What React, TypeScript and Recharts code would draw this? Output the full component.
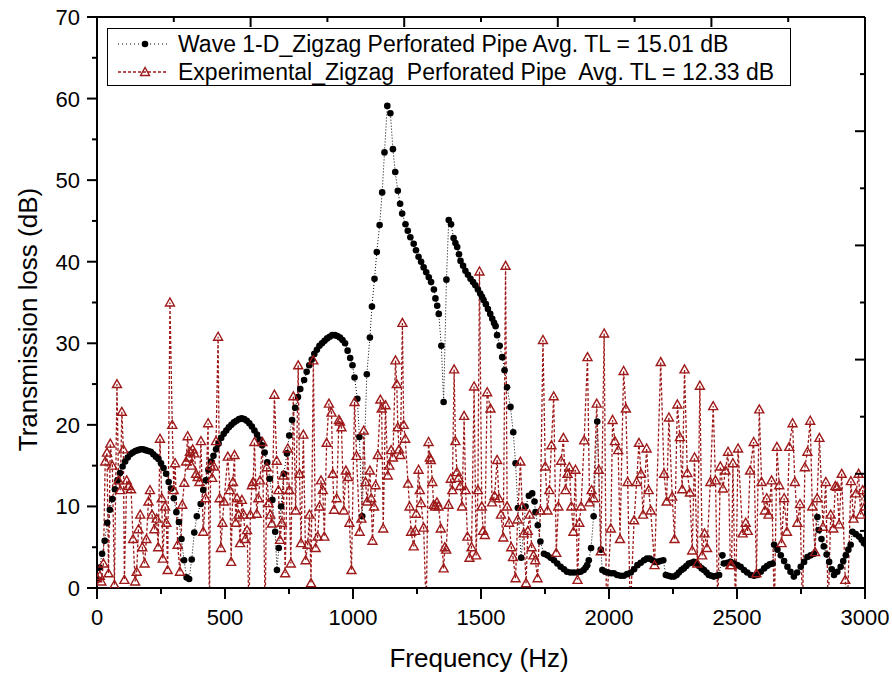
import React from 'react';
import { LineChart, Line, XAxis, YAxis, Legend, Label } from 'recharts';

const FONT = '"Liberation Sans", Arial, Helvetica, sans-serif';
const RED = '#9E1A1A';

// Wave 1-D simulation: [frequency Hz, TL dB]
const simPoints: number[][] = [
  [0,1.0],[10,2.5],[20,4.2],[30,5.8],[40,8.0],[50,9.6],[60,10.9],[70,12.1],[80,13.2],[90,14.1],
  [100,14.9],[110,15.5],[120,16.0],[130,16.4],[140,16.6],[150,16.8],[160,16.9],[170,17.0],[180,17.0],[190,16.9],
  [200,16.8],[210,16.7],[220,16.4],[230,16.1],[240,15.8],[250,15.3],[260,14.7],[270,14.0],[280,13.0],[290,12.2],
  [300,11.0],[310,9.3],[320,8.1],[330,6.0],[340,3.4],[350,1.3],[360,1.1],[370,3.5],[380,6.8],[390,8.8],
  [405,10.3],[415,12.0],[425,13.2],[435,14.5],[445,15.5],[455,16.2],[465,17.0],[475,17.7],[485,18.4],[495,18.9],
  [505,19.3],[515,19.7],[525,20.0],[535,20.3],[545,20.5],[555,20.7],[565,20.8],[575,20.7],[585,20.5],[595,20.2],
  [605,19.8],[615,19.3],[625,18.8],[635,18.2],[645,17.5],[655,16.6],[665,15.4],[675,13.4],[685,10.8],[696,6.9],
  [703,2.2],[710,4.9],[719,10.0],[730,14.0],[742,16.5],[751,18.7],[762,20.6],[774,22.1],[785,23.4],[794,24.4],
  [809,25.5],[819,26.5],[829,27.3],[839,28.0],[849,28.7],[859,29.2],[869,29.7],[879,30.0],[889,30.3],[899,30.6],
  [909,30.8],[919,31.0],[929,31.0],[939,30.9],[949,30.7],[959,30.4],[969,30.0],[979,29.1],[989,28.2],[998,27.3],
  [1006,25.8],[1017,23.2],[1025,18.5],[1036,8.8],[1054,26.2],[1066,30.7],[1074,34.5],[1084,37.9],[1093,41.2],[1104,44.5],
  [1114,48.5],[1123,53.4],[1134,59.1],[1146,58.2],[1156,53.8],[1165,51.0],[1175,48.7],[1184,47.1],[1192,45.9],
  [1205,44.6],[1214,43.8],[1224,43.0],[1237,42.2],[1246,41.4],[1256,40.6],[1266,40.0],[1276,39.3],[1286,38.7],[1296,38.1],
  [1305,37.5],[1316,36.6],[1322,35.5],[1329,34.6],[1335,33.6],[1345,29.7],[1354,22.8],[1365,37.8],[1374,45.1],[1383,44.6],
  [1393,42.9],[1400,42.3],[1407,41.8],[1414,40.9],[1420,40.1],[1430,39.5],[1439,38.9],[1449,38.4],[1459,37.9],[1469,37.5],
  [1478,37.1],[1488,36.6],[1497,36.1],[1504,35.7],[1510,35.3],[1519,34.8],[1527,34.2],[1536,33.6],[1544,33.0],[1551,32.5],
  [1557,32.1],[1563,31.0],[1573,29.7],[1583,28.3],[1592,26.7],[1602,24.6],[1615,22.2],[1626,19.1],[1635,15.3],[1644,9.8],
  [1657,3.7],[1674,10.0],[1687,11.3],[1700,11.6],[1709,10.6],[1713,9.3],[1722,7.7],[1732,5.7],[1746,4.2],[1759,4.0],
  [1772,3.7],[1785,3.4],[1798,3.0],[1811,2.6],[1824,2.3],[1836,2.0],[1849,1.9],[1862,1.9],[1876,1.9],[1889,2.0],
  [1901,2.2],[1909,2.5],[1915,2.8],[1921,3.4],[1930,4.9],[1940,8.8],[1954,20.4],[1968,4.7],[1974,2.2],[1985,2.0],
  [1996,1.9],[2008,1.8],[2019,1.8],[2032,1.6],[2045,1.5],[2058,1.5],[2071,1.7],[2085,1.9],[2098,2.3],[2111,2.8],
  [2124,3.1],[2137,3.4],[2148,3.6],[2159,3.6],[2170,3.4],[2180,3.2],[2189,3.2],[2200,3.3],[2212,3.4],[2222,1.6],
  [2232,1.5],[2243,1.4],[2254,1.4],[2264,1.6],[2273,1.9],[2283,2.2],[2292,2.4],[2302,2.7],[2312,3.0],[2322,3.1],
  [2332,3.2],[2342,3.0],[2352,2.7],[2362,2.4],[2371,2.2],[2381,1.9],[2390,1.6],[2400,1.5],[2409,1.4],[2420,1.5],
  [2430,1.6],[2443,4.0],[2449,3.0],[2462,3.1],[2475,3.2],[2488,3.0],[2501,2.8],[2514,2.6],[2527,2.2],[2540,1.9],
  [2554,1.6],[2567,1.5],[2580,1.6],[2593,2.0],[2606,2.4],[2617,2.7],[2628,2.9],[2639,3.0],[2645,5.3],[2658,4.7],
  [2671,4.0],[2684,3.3],[2697,2.6],[2709,2.0],[2722,1.4],[2735,1.9],[2749,2.6],[2762,3.2],[2775,3.8],[2788,4.0],
  [2801,4.2],[2814,8.7],[2820,7.1],[2830,6.0],[2839,5.1],[2850,4.1],[2860,3.2],[2870,2.3],[2879,1.6],[2892,2.0],
  [2905,2.6],[2915,3.3],[2925,4.0],[2935,4.7],[2944,5.3],[2951,6.9],[2964,6.6],[2977,6.3],[2987,5.9],[2996,5.5],
  [3006,5.2],
];

// Experimental: [frequency Hz, TL dB]
const expPoints: number[][] = [
  [0,1.2],[11,1.5],[17,0.8],[25,3],[32,15.5],[39,16.6],[45,1.8],[52,17.7],[60,15],[68,0.4],
  [78,25.0],[84,13.2],[91,12],[97,21.6],[103,17],[107,1.0],[116,13.2],[123,12.5],[133,12.1],[141,6],
  [149,0.8],[155,2],[162,7.2],[169,9],[177,5],[186,3],[193,6],[201,10.6],[207,12.0],[215,9],
  [224,7.2],[233,8.5],[239,5],[246,18.3],[253,11],[257,3.6],[266,10],[271,8],[276,2.2],[285,35.0],
  [294,20.0],[300,12],[305,15.3],[315,5.3],[324,2.0],[333,10.2],[341,12.9],[348,15.5],[354,18.6],[359,16],
  [363,16.7],[369,15],[374,17],[380,16.5],[387,14],[393,13.6],[400,13],[406,18.0],[415,6.9],[424,11],
  [434,20.2],[439,-3],[444,15],[450,13.5],[457,14.9],[465,18],[473,30.8],[479,11],[484,4.9],[490,8],
  [496,10.6],[511,16.1],[519,12],[524,3.2],[531,13],[537,16.3],[542,8],[547,11.0],[553,9],[559,5.5],
  [566,10.8],[573,9],[579,6],[586,7.1],[594,-3],[599,9],[605,12.6],[610,13],[615,17.9],[624,9.1],
  [630,11],[637,13.2],[646,17.9],[657,-3],[663,14.8],[670,10.4],[677,9],[683,7.9],[693,23.7],[702,15.6],
  [709,12],[715,5.9],[722,8],[728,13.8],[735,1.8],[745,17.1],[751,12],[757,3.0],[767,23.5],[776,9.5],
  [786,27.3],[791,14],[797,5.5],[806,18.8],[815,3.4],[823,5.3],[830,9],[836,0.6],[845,27.9],[854,4.9],
  [862,6.3],[869,10],[875,13.2],[882,12],[888,6.3],[897,17.8],[906,22.6],[916,21.5],[921,14],[926,9.6],
  [936,11.0],[945,20.6],[949,20.4],[955,19.7],[964,9.5],[972,14.4],[981,13.6],[986,8],[994,2.2],
  [1006,22.8],[1014,16.2],[1026,6.9],[1033,8.5],[1042,19.3],[1049,13],[1055,10.6],[1066,14.4],[1071,11],[1076,5.8],
  [1082,10],[1088,12.6],[1097,16.3],[1107,23.1],[1112,22],[1118,7.3],[1127,22.4],[1136,13.8],[1142,15],[1149,16.9],
  [1156,16],[1166,27.9],[1171,25],[1175,19.7],[1180,17],[1185,16.3],[1193,32.5],[1198,20],[1204,18.3],[1215,12.8],
  [1221,10],[1227,6.9],[1237,5.1],[1243,7],[1247,9.1],[1256,14.5],[1261,12],[1266,10.4],[1276,7.4],[1286,-3],
  [1295,17.9],[1300,16],[1304,15.7],[1310,13],[1315,10.2],[1321,10],[1328,10.5],[1334,10.0],[1343,7.3],[1354,2.4],
  [1359,5],[1364,4.7],[1373,10.2],[1382,13.4],[1388,12],[1395,26.8],[1400,18],[1406,14.2],[1412,13.5],[1419,12.5],
  [1426,10],[1434,21.1],[1440,12],[1447,6.3],[1455,3.7],[1463,5],[1473,24.7],[1481,4],[1488,12],[1494,38.8],
  [1503,10.0],[1508,7],[1515,6.5],[1524,24.0],[1537,22.0],[1543,10.5],[1553,11.3],[1563,15.7],[1570,11],[1578,9],
  [1587,6.2],[1596,39.5],[1602,10],[1610,8],[1618,5],[1625,3.8],[1635,1.2],[1643,8.4],[1654,15.5],[1661,10],
  [1667,6.7],[1676,0.6],[1683,7],[1690,9],[1698,5],[1705,4],[1712,3.4],[1721,1.2],[1732,9.5],[1742,30.4],
  [1751,14.9],[1760,9.5],[1767,12],[1775,17.5],[1784,23.5],[1794,4.3],[1802,10],[1813,15.6],[1822,18.4],[1830,12],
  [1838,14],[1845,14.8],[1853,10],[1861,6.9],[1869,14.5],[1877,1],[1884,8],[1891,10.0],[1903,18.1],[1916,28.3],
  [1924,10.5],[1932,12],[1940,11],[1952,22.6],[1960,14.5],[1968,4.5],[1981,31.2],[1990,-3],[2007,7.3],[2014,20.6],
  [2023,18],[2036,16.9],[2043,6],[2057,26.6],[2066,22.0],[2073,13],[2083,-3],[2098,8.3],[2108,13],[2117,17.8],
  [2125,14],[2133,9],[2147,17.1],[2155,12],[2163,9.5],[2178,2.8],[2202,27.7],[2215,14.0],[2225,10.6],[2234,20.9],
  [2247,11.2],[2256,6.0],[2267,22.5],[2277,18.5],[2286,12.1],[2295,26.8],[2306,14.1],[2316,11.7],[2325,4.6],[2334,16.0],
  [2345,3.0],[2355,24.8],[2364,4.0],[2373,6.7],[2383,4.9],[2396,13.0],[2407,22.3],[2416,13.2],[2425,-3],[2435,14.9],
  [2445,12.2],[2455,14.4],[2465,16.7],[2474,2.8],[2479,2.8],[2484,15.3],[2494,-3],[2504,17.1],[2522,6.7],[2534,8.0],
  [2542,7],[2551,14.4],[2565,17.9],[2576,1.8],[2587,21.9],[2596,13.0],[2609,9.5],[2616,11],[2623,9],[2635,13.2],
  [2646,-3],[2656,17.3],[2665,12.6],[2674,5.5],[2684,11],[2695,6.9],[2704,17.3],[2717,20.2],[2726,13.0],[2736,8],
  [2746,10.3],[2756,-3],[2765,14.8],[2775,16.7],[2786,20.5],[2794,10.0],[2805,4.4],[2813,11],[2822,18.4],[2836,7.5],
  [2847,13.0],[2856,-3],[2866,9],[2876,7.3],[2884,12.5],[2891,12.4],[2899,7.8],[2909,14.0],[2923,1.0],[2931,-3],
  [2945,13.1],[2955,8.5],[2965,11.6],[2975,14],[2983,9],[2991,12],[3000,10],
];

const xTicks = [0,250,500,750,1000,1250,1500,1750,2000,2250,2500,2750,3000];
const xMajor = [0,500,1000,1500,2000,2500,3000];
const yTicks = [0,5,10,15,20,25,30,35,40,45,50,55,60,65,70];
const yMajor = [0,10,20,30,40,50,60,70];
const topTicks = [0,300,600,900,1200,1500,1800,2100,2400,2700,3000];
const topMajor = [0,600,1200,1800,2400,3000];
const rightTicks = [0,7,14,21,28,35,42,49,56,63,70];
const rightMajor = [0,14,28,42,56,70];
const legendLabels = [
  'Wave 1-D_Zigzag Perforated Pipe Avg. TL = 15.01 dB',
  'Experimental_Zigzag  Perforated Pipe  Avg. TL = 12.33 dB',
];
const xTitle = 'Frequency (Hz)';
const yTitle = 'Transmission loss (dB)';

const simData = simPoints.map(([f, v]) => ({ f, v }));
const expData = expPoints.map(([f, v]) => ({ f, v }));

const BottomTick = (p: any) => {
  const { x, y, payload } = p;
  const major = xMajor.includes(payload.value);
  return (
    <g>
      <line x1={x} y1={y} x2={x} y2={y + (major ? 11 : 6)} stroke="#000" strokeWidth={2} />
      {major && (
        <text x={x} y={y + 37} textAnchor="middle" fontSize={22} fontFamily={FONT} fill="#000">
          {payload.value}
        </text>
      )}
    </g>
  );
};

const LeftTick = (p: any) => {
  const { x, y, payload } = p;
  const major = yMajor.includes(payload.value);
  return (
    <g>
      <line x1={x} y1={y} x2={x - (major ? 10 : 5)} y2={y} stroke="#000" strokeWidth={2} />
      {major && (
        <text x={x - 17} y={y + 8} textAnchor="end" fontSize={22} fontFamily={FONT} fill="#000">
          {payload.value}
        </text>
      )}
    </g>
  );
};

const TopTick = (p: any) => {
  const { x, y, payload } = p;
  const major = topMajor.includes(payload.value);
  return <line x1={x} y1={y} x2={x} y2={y + (major ? 10 : 5)} stroke="#000" strokeWidth={2} />;
};

const RightTick = (p: any) => {
  const { x, y, payload } = p;
  const major = rightMajor.includes(payload.value);
  return <line x1={x} y1={y} x2={x - (major ? 10 : 5)} y2={y} stroke="#000" strokeWidth={2} />;
};

const triPoints = (cx: number, cy: number) =>
  `${cx},${cy - 4.5} ${cx - 4.5},${cy + 3.5} ${cx + 4.5},${cy + 3.5}`;

const SimDot = (p: any) => (
  <circle key={`s${p.index}`} cx={p.cx} cy={p.cy} r={3.3} fill="#000" stroke="none" />
);

const TriDot = (p: any) => (
  <polygon key={`t${p.index}`} points={triPoints(p.cx, p.cy)} fill="none" stroke={RED} strokeWidth={1.4} />
);

const LegendBox = () => (
  <div style={{ width: 684, height: 58, border: '1px solid #000', boxSizing: 'border-box', background: '#fff' }}>
    <svg width={682} height={56} style={{ display: 'block' }}>
      <line x1={10} y1={15} x2={59} y2={15} stroke="#000" strokeWidth={1} strokeDasharray="1 3" />
      <circle cx={37} cy={15} r={3.3} fill="#000" />
      <text x={70} y={23} fontSize={23} fontFamily={FONT} fill="#000" xmlSpace="preserve" style={{ whiteSpace: 'pre' }}>
        {legendLabels[0]}
      </text>
      <line x1={10} y1={43} x2={59} y2={43} stroke={RED} strokeWidth={1.3} strokeDasharray="3 2" />
      <polygon points={triPoints(37, 43)} fill="none" stroke={RED} strokeWidth={1.4} />
      <text x={70} y={51} fontSize={23} fontFamily={FONT} fill="#000" xmlSpace="preserve" style={{ whiteSpace: 'pre' }}>
        {legendLabels[1]}
      </text>
    </svg>
  </div>
);

const XTitle = (props: any) => {
  const vb = props.viewBox || { x: 97, y: 588, width: 768, height: 89 };
  return (
    <text x={vb.x + vb.width / 2 - 2} y={vb.y + 79} textAnchor="middle" fontSize={26} fontFamily={FONT} fill="#000">
      {xTitle}
    </text>
  );
};

const YTitle = (props: any) => {
  const vb = props.viewBox || { x: 0, y: 17, width: 97, height: 571 };
  const cx = vb.x + 37;
  const cy = vb.y + vb.height / 2 + 17;
  return (
    <text transform={`translate(${cx},${cy}) rotate(-90)`} textAnchor="middle" fontSize={26} fontFamily={FONT} fill="#000">
      {yTitle}
    </text>
  );
};

const axisLine = { stroke: '#000', strokeWidth: 2 };

export default function App() {
  return (
    <div style={{ position: 'absolute', left: 0, top: 0, width: 892, height: 677, background: '#fff' }}>
      <LineChart width={892} height={677} margin={{ top: 17, right: 27, bottom: 0, left: 0 }}>
        <XAxis
          xAxisId="b"
          orientation="bottom"
          type="number"
          dataKey="f"
          domain={[0, 3000]}
          allowDataOverflow
          ticks={xTicks}
          interval={0}
          tick={BottomTick}
          tickLine={false}
          tickSize={0}
          tickMargin={0}
          axisLine={axisLine}
          height={89}
        >
          <Label content={XTitle} />
        </XAxis>
        <XAxis
          xAxisId="t"
          orientation="top"
          mirror
          type="number"
          dataKey="f"
          domain={[0, 3000]}
          allowDataOverflow
          ticks={topTicks}
          interval={0}
          tick={TopTick}
          tickLine={false}
          tickSize={0}
          tickMargin={0}
          axisLine={axisLine}
          height={1}
        />
        <YAxis
          yAxisId="l"
          orientation="left"
          type="number"
          domain={[0, 70]}
          allowDataOverflow
          ticks={yTicks}
          interval={0}
          tick={LeftTick}
          tickLine={false}
          tickSize={0}
          tickMargin={0}
          axisLine={axisLine}
          width={97}
        >
          <Label content={YTitle} />
        </YAxis>
        <YAxis
          yAxisId="r"
          orientation="right"
          mirror
          type="number"
          domain={[0, 70]}
          allowDataOverflow
          ticks={rightTicks}
          interval={0}
          tick={RightTick}
          tickLine={false}
          tickSize={0}
          tickMargin={0}
          axisLine={axisLine}
          width={1}
        />
        <Legend
          layout="vertical"
          align="center"
          verticalAlign="middle"
          content={LegendBox}
          wrapperStyle={{ position: 'absolute', left: 107, top: 28, width: 684, height: 58 }}
        />
        <Line
          xAxisId="b"
          yAxisId="l"
          data={simData}
          dataKey="v"
          type="linear"
          stroke="#000"
          strokeWidth={1}
          strokeDasharray="1 2"
          dot={SimDot}
          activeDot={false}
          isAnimationActive={false}
        />
        <Line
          xAxisId="b"
          yAxisId="l"
          data={expData}
          dataKey="v"
          type="linear"
          stroke={RED}
          strokeWidth={1.3}
          strokeDasharray="3 2"
          dot={TriDot}
          activeDot={false}
          isAnimationActive={false}
        />
      </LineChart>
    </div>
  );
}
